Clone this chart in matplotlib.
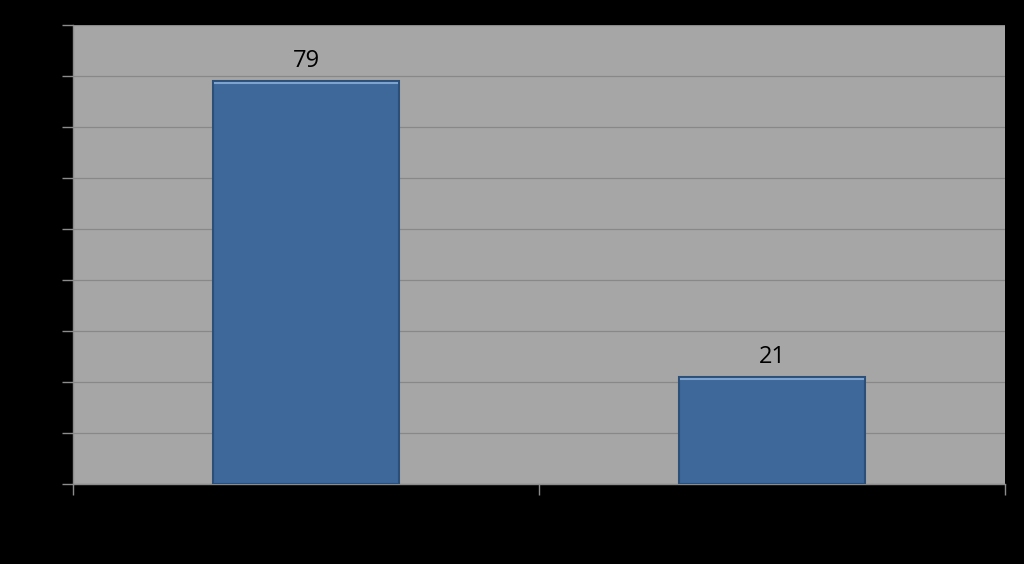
import matplotlib.pyplot as plt
from matplotlib.ticker import MultipleLocator

categories = ["", ""]
values = [79, 21]

fig = plt.figure(figsize=(10.24, 5.64), dpi=100, facecolor="black")
ax = fig.add_axes([73 / 1024, 1 - 484 / 564, 932 / 1024, 459 / 564])
ax.set_facecolor("#A6A6A6")

x = list(range(len(values)))
bars = ax.bar(x, values, width=0.4, color="#3D6899", edgecolor="#2C4F7A",
              linewidth=1.5, zorder=3)

# light bevel along the top of each bar
for b in bars:
    ax.plot([b.get_x() + 0.004, b.get_x() + b.get_width() - 0.004],
            [b.get_height() - 0.35] * 2, color="#7FA3CF", lw=1.5, zorder=4)

for xi, v in zip(x, values):
    ax.annotate(str(v), (xi, v), xytext=(0, 6), textcoords="offset points",
                ha="center", va="bottom", fontsize=17, family="Open Sans",
                color="black")

ax.set_xlim(-0.5, 1.5)
ax.set_ylim(0, 90)
ax.yaxis.set_major_locator(MultipleLocator(10))
ax.set_xticks([-0.5, 0.5, 1.5])
ax.set_xticklabels(["", "", ""])
ax.set_yticklabels([])
ax.grid(axis="y", color="#888888", linewidth=0.9, zorder=0)
ax.set_axisbelow(True)

for side in ["top", "right"]:
    ax.spines[side].set_visible(False)
for side in ["left", "bottom"]:
    ax.spines[side].set_color("#8C8C8C")
    ax.spines[side].set_linewidth(1.0)
ax.tick_params(axis="both", direction="out", length=8, color="#8C8C8C", width=1.0)

plt.savefig("out.png", dpi=100, facecolor="black")
plt.close()
